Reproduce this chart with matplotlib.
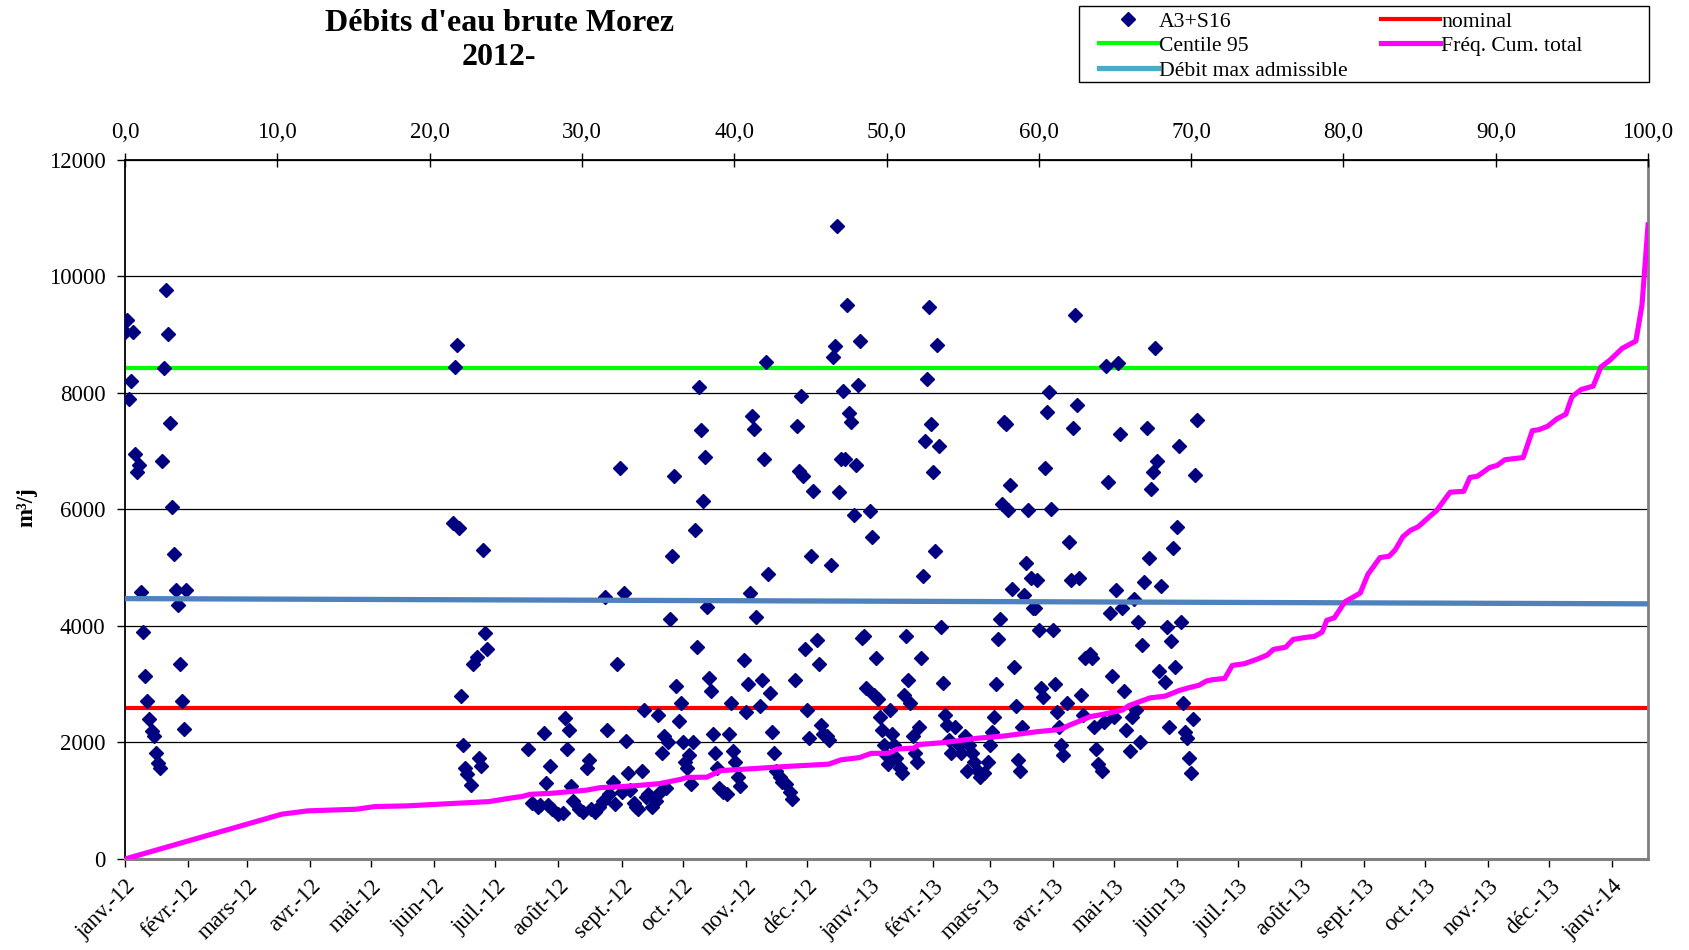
import matplotlib
matplotlib.use("Agg")
import matplotlib.pyplot as plt
import matplotlib.dates as mdates
from matplotlib.lines import Line2D
from matplotlib.patches import Rectangle
import pandas as pd

plt.rcParams['font.family'] = ['Liberation Serif', 'DejaVu Serif']

title = "Débits d'eau brute Morez\n2012-"
ylabel = "m³/j"

# ---- daily flow A3+S16 (m3/j) ----
dates_2012_jan = [f"2012-01-{d:02d}" for d in range(1, 32)]
debits_2012_jan = [9040, 9245, 7900, 8205, 9045, 6960, 6645, 6760, 4575, 3900, 3140, 2715, 2400,
                   2190, 2115, 1815, 1645, 1570, 6835, 8430, 9770, 9005, 7485, 6050, 5230, 4615,
                   4360, 3340, 2715, 2230, 4615]

dates_2012_jun = ["2012-06-10", "2012-06-11", "2012-06-12", "2012-06-13", "2012-06-14", "2012-06-15",
                  "2012-06-16", "2012-06-17", "2012-06-19", "2012-06-20", "2012-06-22", "2012-06-23",
                  "2012-06-24", "2012-06-25", "2012-06-26", "2012-06-27"]
debits_2012_jun = [5770, 8445, 8830, 5690, 2790, 1950, 1567, 1453, 1265, 3345, 3475, 1738, 1595,
                   5300, 3875, 3600]

dates_main = [
    "2012-07-17", "2012-07-19", "2012-07-22", "2012-07-23", "2012-07-25", "2012-07-26", "2012-07-27",
    "2012-07-28", "2012-07-29",
    "2012-08-01", "2012-08-03", "2012-08-04", "2012-08-05", "2012-08-06", "2012-08-07", "2012-08-08",
    "2012-08-11", "2012-08-13", "2012-08-15", "2012-08-16", "2012-08-17", "2012-08-19", "2012-08-21",
    "2012-08-23", "2012-08-24", "2012-08-25", "2012-08-26", "2012-08-28", "2012-08-29", "2012-08-30",
    "2012-08-31",
    "2012-09-01", "2012-09-02", "2012-09-03", "2012-09-04", "2012-09-05", "2012-09-07", "2012-09-08",
    "2012-09-09", "2012-09-11", "2012-09-12", "2012-09-13", "2012-09-14", "2012-09-16", "2012-09-18",
    "2012-09-19", "2012-09-20", "2012-09-21", "2012-09-22", "2012-09-23", "2012-09-24", "2012-09-25",
    "2012-09-26", "2012-09-27", "2012-09-28", "2012-09-29", "2012-09-30",
    "2012-10-01", "2012-10-02", "2012-10-03", "2012-10-04", "2012-10-05", "2012-10-06", "2012-10-07",
    "2012-10-08", "2012-10-09", "2012-10-10", "2012-10-11", "2012-10-12", "2012-10-13", "2012-10-14",
    "2012-10-15", "2012-10-16", "2012-10-17", "2012-10-18", "2012-10-19", "2012-10-21", "2012-10-23",
    "2012-10-24", "2012-10-25", "2012-10-26", "2012-10-27", "2012-10-28", "2012-10-29", "2012-10-31",
    "2012-11-01", "2012-11-02", "2012-11-03", "2012-11-04", "2012-11-05", "2012-11-06", "2012-11-08",
    "2012-11-09", "2012-11-10", "2012-11-11", "2012-11-12", "2012-11-13", "2012-11-14", "2012-11-15",
    "2012-11-16", "2012-11-18", "2012-11-19", "2012-11-21", "2012-11-23", "2012-11-24", "2012-11-25",
    "2012-11-26", "2012-11-27", "2012-11-28", "2012-11-29", "2012-11-30",
    "2012-12-01", "2012-12-02", "2012-12-03", "2012-12-04", "2012-12-06", "2012-12-07", "2012-12-08",
    "2012-12-09", "2012-12-11", "2012-12-12", "2012-12-13", "2012-12-14", "2012-12-15", "2012-12-16",
    "2012-12-17", "2012-12-18", "2012-12-19", "2012-12-20", "2012-12-21", "2012-12-22", "2012-12-23",
    "2012-12-24", "2012-12-25", "2012-12-26", "2012-12-27", "2012-12-28", "2012-12-29", "2012-12-30",
    "2013-01-01", "2013-01-02", "2013-01-03", "2013-01-04", "2013-01-05", "2013-01-06", "2013-01-07",
    "2013-01-08", "2013-01-09", "2013-01-10", "2013-01-11", "2013-01-12", "2013-01-13", "2013-01-14",
    "2013-01-16", "2013-01-17", "2013-01-18", "2013-01-19", "2013-01-20", "2013-01-21", "2013-01-22",
    "2013-01-23", "2013-01-24", "2013-01-25", "2013-01-26", "2013-01-27", "2013-01-28", "2013-01-29",
    "2013-01-30", "2013-01-31",
    "2013-02-01", "2013-02-02", "2013-02-03", "2013-02-04", "2013-02-05", "2013-02-06", "2013-02-07",
    "2013-02-08", "2013-02-09", "2013-02-10", "2013-02-12", "2013-02-14", "2013-02-15", "2013-02-17",
    "2013-02-18", "2013-02-19", "2013-02-20", "2013-02-21", "2013-02-23", "2013-02-24", "2013-02-26",
    "2013-02-28",
    "2013-03-01", "2013-03-02", "2013-03-03", "2013-03-04", "2013-03-05", "2013-03-06", "2013-03-07",
    "2013-03-08", "2013-03-09", "2013-03-10", "2013-03-11", "2013-03-12", "2013-03-13", "2013-03-14",
    "2013-03-15", "2013-03-16", "2013-03-17", "2013-03-18", "2013-03-19", "2013-03-20", "2013-03-21",
    "2013-03-22", "2013-03-23", "2013-03-24", "2013-03-25", "2013-03-26", "2013-03-27", "2013-03-28",
    "2013-03-29", "2013-03-30", "2013-03-31",
    "2013-04-01", "2013-04-02", "2013-04-03", "2013-04-04", "2013-04-05", "2013-04-06", "2013-04-08",
    "2013-04-09", "2013-04-10", "2013-04-11", "2013-04-12", "2013-04-13", "2013-04-14", "2013-04-15",
    "2013-04-16", "2013-04-17", "2013-04-19", "2013-04-20", "2013-04-21", "2013-04-22", "2013-04-23",
    "2013-04-25", "2013-04-26", "2013-04-27", "2013-04-28", "2013-04-29", "2013-04-30",
    "2013-05-01", "2013-05-02", "2013-05-03", "2013-05-04", "2013-05-05", "2013-05-06", "2013-05-07",
    "2013-05-09", "2013-05-10", "2013-05-11", "2013-05-12", "2013-05-13", "2013-05-14", "2013-05-15",
    "2013-05-16", "2013-05-17", "2013-05-18", "2013-05-19", "2013-05-20", "2013-05-21", "2013-05-22",
    "2013-05-23", "2013-05-24", "2013-05-26", "2013-05-27", "2013-05-28", "2013-05-29", "2013-05-30",
    "2013-05-31",
    "2013-06-01", "2013-06-02", "2013-06-03", "2013-06-04", "2013-06-05", "2013-06-06", "2013-06-07",
    "2013-06-08", "2013-06-09", "2013-06-10", "2013-06-11",
]
debits_main = [
    1890, 960, 885, 920, 2170, 1310, 920, 1590, 850,
    780, 790, 2425, 1890, 2220, 1255, 1000, 850, 810, 1555, 1700, 850, 810, 885, 1000, 4490, 2220,
    1110, 1330, 940, 3340, 6720,
    1145, 4565, 2020, 1480, 1180, 960, 885, 850, 1515, 2560, 1070, 1110, 885, 1000, 2470, 1145, 1815,
    2110, 1220, 2000, 4120, 5200, 6570, 2965, 2370, 2670,
    2000, 1665, 1555, 1780, 1295, 2000, 5640, 3635, 8095, 7370, 6140, 6905, 4330, 3115, 2890, 2150,
    1815, 1555, 1220, 1145, 1110, 2150, 2670, 1850, 1665, 1405, 1255, 3410,
    2520, 3000, 4565, 7610, 7390, 4155, 2630, 3080, 6870, 8530, 4900, 2855, 2185, 1815, 1515, 1405,
    1330, 1295, 1145, 1035, 3065, 7430, 6660, 7950, 6570, 3600,
    2560, 2075, 5210, 6310, 3760, 3340, 2300, 2150, 2110, 2040, 5050, 8620, 8800, 10870, 6300, 6870,
    8040, 6870, 9510, 7650, 7500, 5900, 6760, 8130, 8900, 3800, 3820, 2930,
    5980, 5530, 2820, 3450, 2745, 2445, 2220, 1960, 1780, 1630, 2560, 2150, 1960, 1740, 1555, 1480,
    2820, 3820, 3080, 2670, 2110, 1815, 1665, 2260, 3450, 4860, 7170, 8245, 9470, 7460,
    6650, 5290, 8825, 7090, 3990, 3025, 2480, 2300, 2040, 1815, 2260, 1960, 1815, 2110, 1515, 1960,
    1815, 1665, 1515, 1405, 1480, 1665,
    1960, 2185, 2445, 3000, 3785, 4120, 6090, 7500, 7465, 5990, 6420, 4640, 3300, 2630, 1700, 1515,
    2260, 4530, 5085, 5990, 4825, 4305, 4305, 4790, 3930, 2930, 2780, 6720, 7670, 8020, 6015,
    3930, 3000, 2520, 2260, 1960, 1780, 2670, 5440, 4790, 7405, 9345, 7800, 4825, 2820, 2480, 3450,
    3525, 3450, 2260, 1890, 1630, 1515, 2350, 8470, 6480, 4230, 3140,
    2445, 4625, 8520, 7300, 4305, 2890, 2220, 1850, 2445, 4455, 2560, 4060, 2000, 3670, 4750, 7405,
    5160, 6350, 6650, 8765, 6830, 3225, 4690, 3040, 3985, 2260, 3750, 5345, 3300,
    5695, 7090, 4070, 2670, 2185, 2075, 1740, 1480, 2410, 6595, 7540,
]

dates = dates_2012_jan + dates_2012_jun + dates_main
debits = debits_2012_jan + debits_2012_jun + debits_main

# ---- cumulative frequency curve (top axis, %) ----
freq_pct = [0, 10.3, 12.0, 15.2, 16.4, 18.5, 21.8, 23.9, 25.1, 26.1, 26.6, 28.0, 30.3, 31.2, 32.0,
            33.4, 35.1, 36.5, 36.9, 38.2, 39.1, 41.4, 43.5, 46.2, 47.0, 48.2, 49.0, 50.1, 50.7, 51.8,
            52.1, 53.8, 56.0, 57.7, 59.9, 61.4, 62.0, 63.4, 64.2, 65.5, 65.9, 67.3, 68.3, 69.2, 69.9,
            70.5, 71.0, 71.4, 72.2, 72.7, 73.5, 74.3, 75.0, 75.4, 76.2, 76.7, 77.4, 78.1, 78.6, 78.9,
            79.4, 80.1, 81.1, 81.6, 82.4, 83.0, 83.4, 83.9, 84.4, 84.9, 85.7, 86.1, 87.0, 87.9, 88.3,
            88.8, 89.6, 90.1, 90.6, 91.8, 92.4, 92.8, 93.4, 94.0, 94.6, 95.0, 95.6, 96.4, 96.9, 97.5,
            98.3, 99.2, 99.6, 100]
freq_val = [0, 770, 826, 855, 900, 912, 957, 985, 1037, 1075, 1110, 1128, 1182, 1225, 1234,
            1256, 1294, 1368, 1400, 1405, 1517, 1554, 1590, 1628, 1702, 1740, 1814, 1814, 1888, 1903,
            1963, 2000, 2074, 2111, 2186, 2223, 2297, 2446, 2483, 2558, 2632, 2766, 2796, 2892, 2944,
            2981, 3056, 3078, 3100, 3323, 3353, 3427, 3502, 3598, 3636, 3770, 3800, 3822, 3896, 4097,
            4141, 4416, 4565, 4885, 5175, 5197, 5308, 5532, 5643, 5703, 5889, 5978, 6297, 6312, 6550,
            6572, 6721, 6758, 6855, 6892, 7353, 7368, 7428, 7554, 7636, 7933, 8059, 8119, 8446, 8565,
            8766, 8892, 9509, 10885]

centile95 = 8430
nominal = 2600
debit_max_dates = ["2012-01-01 00:00", "2014-01-18 12:00"]
debit_max_vals = [4470, 4380]

month_names = ["janv.", "févr.", "mars", "avr.", "mai", "juin", "juil.", "août", "sept.", "oct.",
               "nov.", "déc."]
x_start, x_end = "2012-01-01", "2014-01-18 12:00"
y_ticks = [0, 2000, 4000, 6000, 8000, 10000, 12000]
pct_ticks = [0, 10, 20, 30, 40, 50, 60, 70, 80, 90, 100]

legend_labels = ["A3+S16", "Centile 95", "Débit max admissible", "nominal", "Fréq. Cum. total"]

# ---- figure ----
fig = plt.figure(figsize=(16.9, 9.5), dpi=100)
ax = fig.add_axes([0.0740, 0.0958, 0.9012, 0.7358])

ax.set_ylim(0, 12000)
ax.set_xlim(mdates.date2num(pd.Timestamp(x_start)), mdates.date2num(pd.Timestamp(x_end)))
ax.set_yticks(y_ticks, [str(v) for v in y_ticks])
ax.set_axisbelow(True)
ax.yaxis.grid(True, color='black', lw=0.9)
ax.xaxis.grid(False)

l_nom = ax.axhline(nominal, color='#FF0000', lw=3.0, zorder=2)
l_c95 = ax.axhline(centile95, color='#00FF00', lw=3.0, zorder=2)
sc, = ax.plot(pd.to_datetime(dates, format='%Y-%m-%d'), debits, ls='none', marker='D', ms=7.6,
              color='#000080', mec='#000080', zorder=3)
ax.plot(pd.to_datetime(debit_max_dates, format='%Y-%m-%d %H:%M'), debit_max_vals,
        color='#4F81BD', lw=3.8, zorder=4)

month_ticks = pd.date_range("2012-01-01", "2014-01-01", freq="MS")
month_labels = [f"{month_names[d.month - 1]}-{d.strftime('%y')}" for d in month_ticks]
ax.set_xticks(month_ticks, month_labels, rotation=45, ha='right', rotation_mode='anchor')
ax.tick_params(axis='x', direction='out', length=6, width=1, labelsize=16.5, pad=6, colors='black')
ax.tick_params(axis='y', direction='out', length=6, width=1, labelsize=16.5, pad=8)

ax.spines['top'].set_visible(False)
ax.spines['left'].set_color('black')
ax.spines['left'].set_linewidth(1.3)
ax.spines['bottom'].set_color('#808080')
ax.spines['bottom'].set_linewidth(2.2)
ax.spines['right'].set_color('#808080')
ax.spines['right'].set_linewidth(2.0)

ax2 = ax.twiny()
ax2.set_xlim(0, 100)
l_freq, = ax2.plot(freq_pct, freq_val, color='#FF00FF', lw=3.7, zorder=5)
ax2.set_xticks(pct_ticks, [f"{v:.1f}".replace('.', ',') for v in pct_ticks])
ax2.tick_params(axis='x', direction='inout', length=10, width=1, labelsize=16.5, pad=7)
for s in ['left', 'right', 'bottom']:
    ax2.spines[s].set_visible(False)
ax2.spines['top'].set_color('black')
ax2.spines['top'].set_linewidth(1.3)

fig.text(0.2953, 1 - 9 / 950, title, ha='center', va='top', fontsize=23, fontweight='bold',
         linespacing=1.22)
fig.text(27 / 1690, 0.466, ylabel, rotation=90, ha='center', va='center', fontsize=16.5,
         fontweight='bold')

blue_proxy = Line2D([], [], color='#4BACC6', lw=3.8)
handles = [sc, l_c95, blue_proxy, l_nom, l_freq]
fig.legend(handles, legend_labels, ncol=2, loc='upper left', bbox_to_anchor=(0.6503, 0.988),
           frameon=False, fontsize=15.6, handlelength=2.72, handletextpad=0.05, columnspacing=1.55,
           labelspacing=0.2, borderpad=0, borderaxespad=0)
fig.add_artist(Rectangle((0.6385, 0.9137), 0.3373, 0.0795, transform=fig.transFigure,
                         fill=False, ec='black', lw=1))

fig.savefig("out.png", dpi=100)
